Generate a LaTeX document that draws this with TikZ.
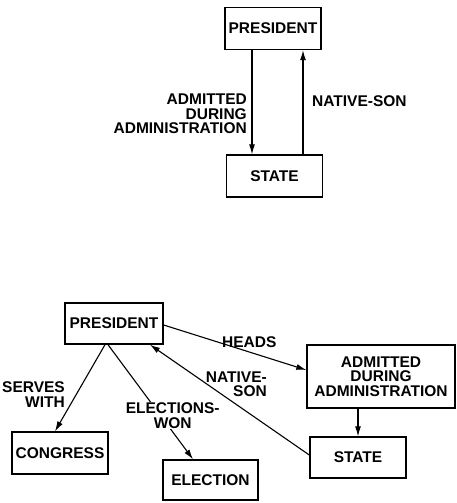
\documentclass[tikz,border=0pt]{standalone}
\usepackage{fontspec}
\setmainfont{Liberation Sans}
\usetikzlibrary{arrows.meta}

\tikzset{
  box/.style={draw, line width=1.4pt, inner sep=2pt, minimum width=96pt, minimum height=42pt,
    font=\fontsize{15.5}{14.5}\selectfont\bfseries},
  lbl/.style={inner sep=1pt, font=\fontsize{15.5}{14.5}\selectfont\bfseries},
  link/.style={line width=1.1pt, -{Latex[length=10pt,width=6pt]}},
}

\begin{document}
\begin{tikzpicture}[x=1pt,y=-1pt]

\useasboundingbox (0,0) rectangle (457,503);

% Upper graph
\node[box] (presA) at (273,28.5) {PRESIDENT};
\node[box] (stateA) at (274.5,176) {STATE};

\draw[link] ([xshift=-21pt]presA.south) -- ([xshift=-22.5pt]stateA.north);
\draw[link] ([xshift=28.5pt]stateA.north) -- ([xshift=30pt]presA.south);

\node[lbl, align=right, anchor=east] (admA) at (248,114) {ADMITTED\\DURING\\ADMINISTRATION};
\node[lbl, anchor=west] (natA) at (311,101) {NATIVE-SON};

% Lower graph
\node[box, minimum width=98pt, minimum height=41pt] (presB) at (114,323.5) {PRESIDENT};
\node[box] (congress) at (60,453) {CONGRESS};
\node[box, minimum width=95pt, minimum height=40pt] (election) at (210.5,480) {ELECTION};
\node[box, minimum width=148pt, minimum height=63pt, align=center] (admB) at (381,376.5) {ADMITTED\\DURING\\ADMINISTRATION};
\node[box, minimum height=41pt] (stateB) at (358,457.5) {STATE};

\draw[link] ([xshift=-9pt]presB.south) -- ([xshift=-5pt]congress.north);
\draw[link] ([xshift=-6pt]presB.south) -- ([xshift=-17.5pt]election.north)
  node[lbl, pos=0.62, fill=white, align=center, xshift=12pt] (won) {ELECTIONS-\\WON};
\draw[link] ([yshift=-1.5pt]presB.east) -- ([yshift=6.5pt]admB.west)
  node[lbl, pos=0.6, above=3pt] (heads) {HEADS};
\draw[link] ([yshift=2.5pt]stateB.west) -- ([xshift=36pt]presB.south);
\draw[link] ([xshift=-23pt]admB.south) -- ([xshift=0pt]stateB.north);

\node[lbl, align=right, anchor=east] (serves) at (66,394.5) {SERVES\\WITH};
\node[lbl, align=right, anchor=east] (natB) at (268,384) {NATIVE-\\SON};

\end{tikzpicture}
\end{document}
